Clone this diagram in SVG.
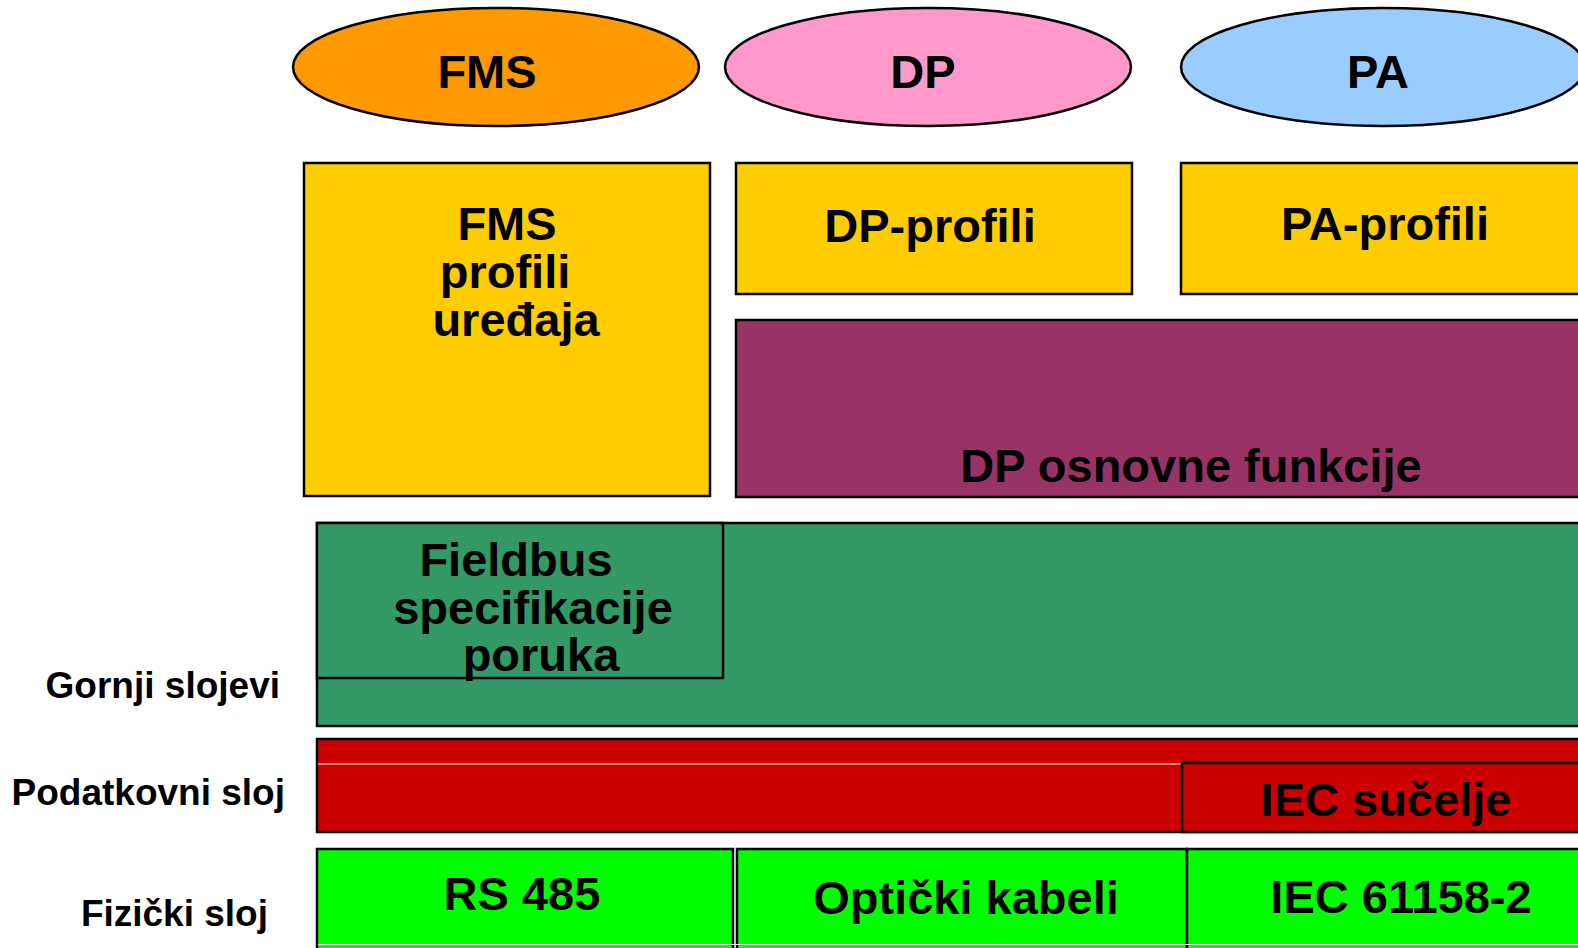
<svg xmlns="http://www.w3.org/2000/svg" width="1578" height="948" viewBox="0 0 1578 948">
<style>
.b{stroke:#000;stroke-width:2.5}
.t{font-family:"Liberation Sans",Arial,sans-serif;font-weight:bold;fill:#000}
.big{font-size:47px}
.lbl{font-size:37px}
</style>
<rect width="1578" height="948" fill="#fff"/>
<g id="fms-ellipse"><ellipse class="b" cx="496" cy="67" rx="203" ry="59" fill="#FF9900"/><text class="t big" x="487" y="88" text-anchor="middle">FMS</text></g>
<g id="dp-ellipse"><ellipse class="b" cx="928" cy="67" rx="203" ry="59" fill="#FF99CC"/><text class="t big" x="923" y="88" text-anchor="middle">DP</text></g>
<g id="pa-ellipse"><ellipse class="b" cx="1383" cy="67" rx="202" ry="59" fill="#99CCFF"/><text class="t big" x="1378" y="88" text-anchor="middle">PA</text></g>
<g id="fms-profili"><rect class="b" x="304" y="163" width="406" height="333" fill="#FFCC00"/>
<text class="t big" x="507" y="240" text-anchor="middle">FMS</text>
<text class="t big" x="505" y="288" text-anchor="middle">profili</text>
<text class="t big" x="516" y="336" text-anchor="middle">uređaja</text></g>
<g id="dp-profili"><rect class="b" x="736" y="163" width="396" height="131" fill="#FFCC00"/><text class="t big" x="930" y="242" text-anchor="middle">DP-profili</text></g>
<g id="pa-profili"><rect class="b" x="1181" y="163" width="410" height="131" fill="#FFCC00"/><text class="t big" x="1385" y="240" text-anchor="middle">PA-profili</text></g>
<g id="dp-osnovne"><rect class="b" x="736" y="320" width="855" height="177" fill="#993366"/><text class="t big" x="1191" y="482" text-anchor="middle">DP osnovne funkcije</text></g>
<g id="gornji"><rect class="b" x="317" y="523" width="1274" height="203" fill="#339966"/>
<rect class="b" x="317" y="523" width="406" height="155" fill="#339966"/>
<text class="t big" x="516" y="576" text-anchor="middle">Fieldbus</text>
<text class="t big" x="533" y="624" text-anchor="middle">specifikacije</text>
<text class="t big" x="541" y="671" text-anchor="middle">poruka</text></g>
<g id="podatkovni"><rect class="b" x="317" y="739" width="1274" height="93" fill="#CC0000"/>
<line x1="318" y1="764" x2="1181" y2="764" stroke="#fff" stroke-width="1"/>
<rect class="b" x="1182" y="763" width="409" height="69" fill="#CC0000"/>
<text class="t big" x="1386" y="816" text-anchor="middle">IEC sučelje</text></g>
<g id="fizicki">
<rect class="b" x="317" y="849" width="416" height="110" fill="#00FF00"/>
<rect class="b" x="737" y="849" width="450" height="110" fill="#00FF00"/>
<rect class="b" x="1187" y="849" width="404" height="110" fill="#00FF00"/>
<line x1="318" y1="944.5" x2="1578" y2="944.5" stroke="#fff" stroke-width="1"/>
<text class="t big" x="522" y="910" text-anchor="middle">RS 485</text>
<text class="t big" x="966" y="914" text-anchor="middle">Optički kabeli</text>
<text class="t big" x="1401" y="913" text-anchor="middle">IEC 61158-2</text></g>
<g id="labels">
<text class="t lbl" x="280" y="698" text-anchor="end">Gornji slojevi</text>
<text class="t lbl" x="285" y="805" text-anchor="end">Podatkovni sloj</text>
<text class="t lbl" x="268" y="926" text-anchor="end">Fizički sloj</text></g>
<g id="connectors"></g>
</svg>
